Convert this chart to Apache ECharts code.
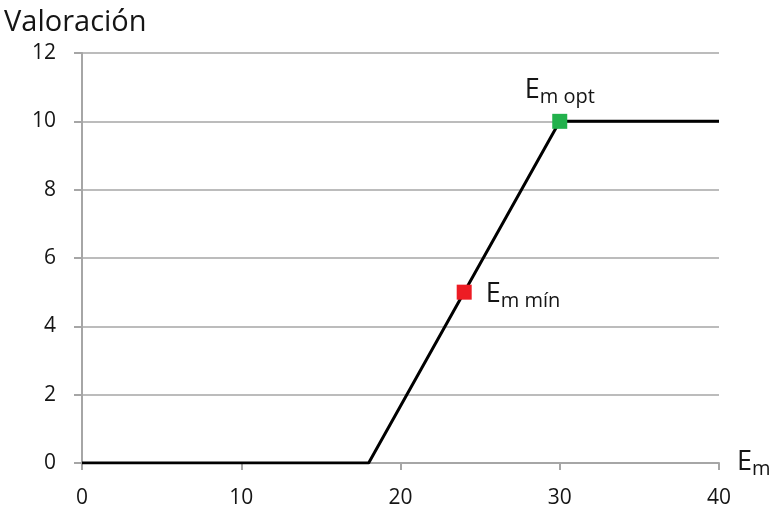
<!DOCTYPE html>
<html>
<head>
<meta charset="utf-8">
<script src="https://cdn.jsdelivr.net/npm/echarts@6/dist/echarts.min.js"></script>
<style>
  html, body { margin: 0; padding: 0; background: #fff; }
  #chart { width: 775px; height: 514px; }
</style>
</head>
<body>
<div id="chart"></div>
<script>
// Valuation curve: zero up to 18, linear rise to 10 at 30, flat after
const curveX = [0, 18, 30, 40];
const curveY = [0, 0, 10, 10];
// Highlighted points on the curve
const minPoint = [24, 5];
const optPoint = [30, 10];
const xTicks = [0, 10, 20, 30, 40];
const yTicks = [0, 2, 4, 6, 8, 10, 12];

const FONT = 'Open Sans';
const TEXT = '#151515';
const chart = echarts.init(document.getElementById('chart'));

const subRich = {
  big: { fontFamily: FONT, fontSize: 27, color: TEXT, verticalAlign: 'bottom', lineHeight: 32 },
  sub: { fontFamily: FONT, fontSize: 20, color: TEXT, verticalAlign: 'bottom', lineHeight: 25, padding: [0, 0, -3, 0] }
};

chart.setOption({
  animation: false,
  grid: { left: 82, right: 56, top: 53, bottom: 51, containLabel: false },
  xAxis: {
    type: 'value',
    min: xTicks[0], max: xTicks[xTicks.length - 1], interval: 10,
    name: '{big|E}{sub|m}',
    nameLocation: 'end',
    nameGap: 18,
    nameTextStyle: { rich: subRich, padding: [0, 0, 6, 0] },
    axisLine: { show: true, lineStyle: { color: '#a6a6a6', width: 2 } },
    axisTick: { show: true, inside: false, length: 7, lineStyle: { color: '#a6a6a6', width: 2 } },
    axisLabel: { fontFamily: FONT, fontSize: 21, color: TEXT, margin: 25 },
    splitLine: { show: false }
  },
  yAxis: {
    type: 'value',
    min: yTicks[0], max: yTicks[yTicks.length - 1], interval: 2,
    name: 'Valoración',
    nameLocation: 'end',
    nameGap: 16,
    nameTextStyle: { fontFamily: FONT, fontSize: 29, color: TEXT, align: 'left', padding: [0, 0, 0, -78] },
    axisLine: { show: true, lineStyle: { color: '#a6a6a6', width: 2 } },
    axisTick: { show: true, inside: false, length: 8, lineStyle: { color: '#a6a6a6', width: 2 } },
    axisLabel: { fontFamily: FONT, fontSize: 21, color: TEXT, margin: 26 },
    splitLine: { show: true, lineStyle: { color: '#a6a6a6', width: 1.5 } }
  },
  series: [
    {
      type: 'line',
      data: curveX.map((x, i) => [x, curveY[i]]),
      showSymbol: false,
      lineStyle: { color: '#000', width: 3 },
      z: 3
    },
    {
      type: 'scatter',
      data: [minPoint],
      symbol: 'rect',
      symbolSize: 15,
      itemStyle: { color: '#ed1c24', opacity: 1 },
      label: {
        show: true, position: 'right', distance: 14,
        formatter: '{big|E}{sub|m mín}', rich: subRich
      },
      z: 5
    },
    {
      type: 'scatter',
      data: [optPoint],
      symbol: 'rect',
      symbolSize: 15,
      itemStyle: { color: '#22b14c', opacity: 1 },
      label: {
        show: true, position: 'top', distance: 10,
        formatter: '{big|E}{sub|m opt}', rich: subRich
      },
      z: 5
    }
  ]
});
</script>
</body>
</html>
